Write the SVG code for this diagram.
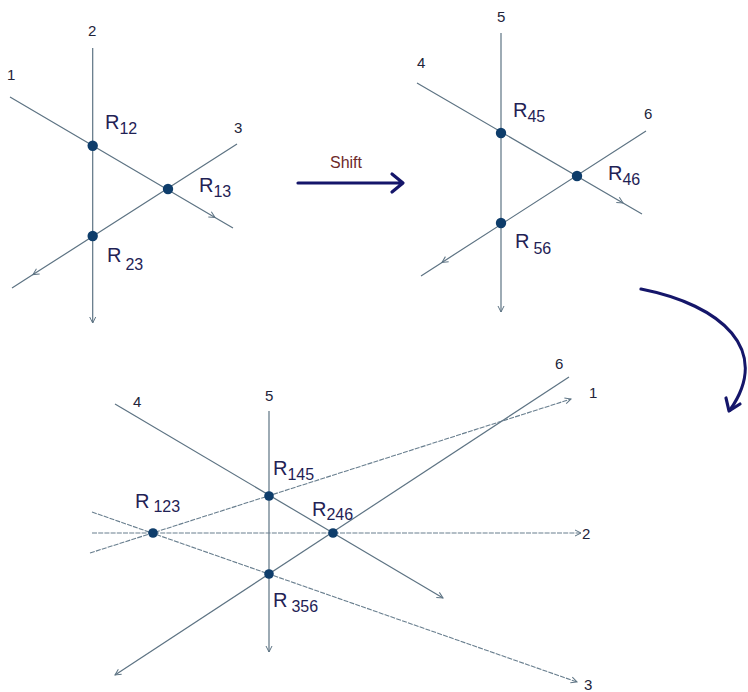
<svg xmlns="http://www.w3.org/2000/svg" width="748" height="692" viewBox="0 0 748 692">
<style>
.ln{fill:none;stroke:#5d7383;stroke-width:1.2}
.dl{fill:none;stroke:#687e8e;stroke-width:1.1;stroke-dasharray:5 1.2}
.pt{fill:#0e3d6b}
.r{font-family:"Liberation Sans",Arial,sans-serif;font-size:20px;fill:#1f2255}
.s{font-size:16px}
.n{font-family:"Liberation Sans",Arial,sans-serif;font-size:15px;fill:#22243a}
.big{fill:none;stroke:#15166a;stroke-width:3.2;stroke-linecap:round;stroke-linejoin:round}
</style>
<defs>
<marker id="ah" viewBox="0 0 8 8" refX="7" refY="4" markerWidth="8" markerHeight="8" markerUnits="userSpaceOnUse" orient="auto">
<path d="M1,1 L7,4 L1,7" fill="none" stroke="#5d7383" stroke-width="1"/>
</marker>
</defs>
<rect width="748" height="692" fill="#ffffff"/>
<g id="connectors">
<path class="ln" d="M10,97 L215,217.4 L233,228" marker-mid="url(#ah)"/>
<path class="ln" d="M92.7,48 L92.7,323" marker-end="url(#ah)"/>
<path class="ln" d="M237,144 L33,274.6 L12,288" marker-mid="url(#ah)"/>
<path class="ln" d="M417,83 L623,202.9 L642,214" marker-mid="url(#ah)"/>
<path class="ln" d="M501,33 L501,312" marker-end="url(#ah)"/>
<path class="ln" d="M646,131 L442,262.4 L421,276" marker-mid="url(#ah)"/>
<path class="ln" d="M115,404 L443,598" marker-end="url(#ah)"/>
<path class="ln" d="M269,411 L269,652" marker-end="url(#ah)"/>
<path class="ln" d="M569,377 L115,675" marker-end="url(#ah)"/>
<path class="dl" d="M90,553 L571,399" marker-end="url(#ah)"/>
<path class="dl" d="M92,533 L581,533" marker-end="url(#ah)"/>
<path class="dl" d="M92,512 L577,682" marker-end="url(#ah)"/>
<path class="big" d="M298,183 L402,183 M392,174 L403,183 L392,192"/>
<path class="big" d="M641,289 C722,305 772,350 730,410"/>
<path class="big" d="M726,398 L729,411 L740,404"/>
</g>
<g id="shift-label"><text x="346" y="168" text-anchor="middle" font-family="Liberation Sans, Arial, sans-serif" font-size="16" fill="#6e2a2a">Shift</text></g>
<g id="labels-top-left">
<text class="n" x="7" y="80">1</text>
<text class="n" x="88" y="36">2</text>
<text class="n" x="234" y="133">3</text>
</g>
<g id="labels-top-right">
<text class="n" x="417" y="68">4</text>
<text class="n" x="497" y="22">5</text>
<text class="n" x="644" y="119">6</text>
</g>
<g id="labels-bottom">
<text class="n" x="133" y="407">4</text>
<text class="n" x="265" y="401">5</text>
<text class="n" x="555" y="369">6</text>
<text class="n" x="589" y="398">1</text>
<text class="n" x="582" y="539">2</text>
<text class="n" x="584" y="690">3</text>
</g>
<g id="R12"><circle class="pt" cx="92.7" cy="145.7" r="5.2"/><text class="r" x="105" y="129">R<tspan class="s" dy="5">12</tspan></text></g>
<g id="R13"><circle class="pt" cx="168" cy="189" r="5.2"/><text class="r" x="199" y="192">R<tspan class="s" dy="5">13</tspan></text></g>
<g id="R23"><circle class="pt" cx="92.7" cy="236" r="5.2"/><text class="r" x="107" y="262">R<tspan class="s" dx="4" dy="8">23</tspan></text></g>
<g id="R45"><circle class="pt" cx="501" cy="133" r="5.2"/><text class="r" x="513" y="117">R<tspan class="s" dy="5">45</tspan></text></g>
<g id="R46"><circle class="pt" cx="577" cy="176" r="5.2"/><text class="r" x="608" y="180">R<tspan class="s" dy="5">46</tspan></text></g>
<g id="R56"><circle class="pt" cx="501" cy="223" r="5.2"/><text class="r" x="515" y="248">R<tspan class="s" dx="4" dy="6">56</tspan></text></g>
<g id="R123"><circle class="pt" cx="153" cy="533" r="4.8"/><text class="r" x="135" y="508">R<tspan class="s" dx="4" dy="4">123</tspan></text></g>
<g id="R145"><circle class="pt" cx="269" cy="496" r="4.8"/><text class="r" x="273" y="475">R<tspan class="s" dy="5">145</tspan></text></g>
<g id="R246"><circle class="pt" cx="333" cy="533" r="4.8"/><text class="r" x="312" y="516">R<tspan class="s" dy="4">246</tspan></text></g>
<g id="R356"><circle class="pt" cx="269" cy="574" r="4.8"/><text class="r" x="273" y="607">R<tspan class="s" dx="4" dy="5">356</tspan></text></g>
</svg>
